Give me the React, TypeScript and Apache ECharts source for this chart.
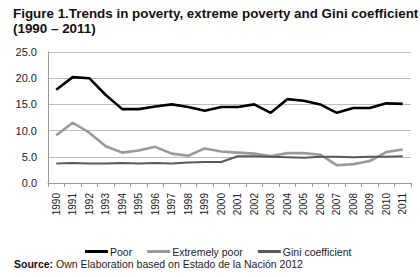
import React, { useEffect, useRef } from "react";
import * as echarts from "echarts";

const years = ["1990","1991","1992","1993","1994","1995","1996","1997","1998","1999","2000","2001","2002","2003","2004","2005","2006","2007","2008","2009","2010","2011"];
const poor = [17.8, 20.2, 20.0, 16.8, 14.1, 14.1, 14.6, 15.0, 14.5, 13.8, 14.5, 14.5, 15.0, 13.4, 16.0, 15.7, 15.0, 13.4, 14.3, 14.3, 15.2, 15.1];
const extremelyPoor = [9.1, 11.5, 9.6, 7.0, 5.8, 6.2, 6.9, 5.6, 5.2, 6.6, 6.0, 5.8, 5.6, 5.1, 5.7, 5.7, 5.4, 3.4, 3.6, 4.2, 5.9, 6.4];
const gini = [3.7, 3.8, 3.7, 3.7, 3.8, 3.7, 3.8, 3.7, 3.9, 4.0, 4.0, 5.1, 5.1, 5.0, 4.9, 4.8, 5.0, 5.0, 4.9, 5.0, 5.0, 5.1];
const yTicks = ["0.0", "5.0", "10.0", "15.0", "20.0", "25.0"];

const FONT = "'Liberation Sans', Arial, sans-serif";

export default function App() {
  const ref = useRef<HTMLDivElement>(null);
  useEffect(() => {
    if (!ref.current) return;
    const chart = echarts.init(ref.current, null, { renderer: "svg" });
    chart.setOption({
      animation: false,
      backgroundColor: "#ffffff",
      title: [
        {
          text: "Figure 1.Trends in poverty, extreme poverty and Gini coefficient\n(1990 – 2011)",
          left: 8,
          top: 1,
          textStyle: { fontFamily: FONT, fontSize: 13.4, fontWeight: "bold", color: "#111", lineHeight: 15 },
        },
        {
          text: "{b|Source:} Own Elaboration based on Estado de la Nación 2012",
          left: 9,
          top: 253,
          textStyle: {
            fontFamily: FONT, fontSize: 10.5, fontWeight: "normal", color: "#222",
            rich: { b: { fontFamily: FONT, fontSize: 10.5, fontWeight: "bold", color: "#111" } },
          },
        },
      ],
      legend: {
        top: 241,
        left: 80,
        icon: "rect",
        itemWidth: 23,
        itemHeight: 3,
        itemGap: 15,
        textStyle: { fontFamily: FONT, fontSize: 10.5, color: "#222", padding: [0, 0, 0, -3] },
        data: ["Poor", "Extremely poor", "Gini coefficient"],
      },
      grid: { left: 48, right: 9, top: 52, bottom: 94 },
      xAxis: {
        type: "category",
        data: years,
        boundaryGap: true,
        axisLine: { lineStyle: { color: "#999", width: 1 } },
        axisTick: { show: true, length: 4, lineStyle: { color: "#999" } },
        axisLabel: { rotate: 90, fontFamily: FONT, fontSize: 10, color: "#222", margin: 10, interval: 0 },
      },
      yAxis: {
        type: "value",
        min: 0,
        max: 25,
        interval: 5,
        axisLine: { show: true, lineStyle: { color: "#999" } },
        axisTick: { show: false },
        splitLine: { lineStyle: { color: "#bdbdbd", width: 1.2 } },
        axisLabel: {
          fontFamily: FONT, fontSize: 11, color: "#222", margin: 11,
          formatter: (v: number) => yTicks[Math.round(v / 5)] ?? v.toFixed(1),
        },
      },
      series: [
        { name: "Poor", type: "line", data: poor, showSymbol: false, color: "#000", lineStyle: { width: 2.6, color: "#000" } },
        { name: "Extremely poor", type: "line", data: extremelyPoor, showSymbol: false, color: "#9a9a9a", lineStyle: { width: 2.6, color: "#9a9a9a" } },
        { name: "Gini coefficient", type: "line", data: gini, showSymbol: false, color: "#5a5a5a", lineStyle: { width: 2, color: "#5a5a5a" } },
      ],
    });
    return () => chart.dispose();
  }, []);
  return <div ref={ref} style={{ position: "fixed", left: 0, top: 0, width: 420, height: 277 }} />;
}
